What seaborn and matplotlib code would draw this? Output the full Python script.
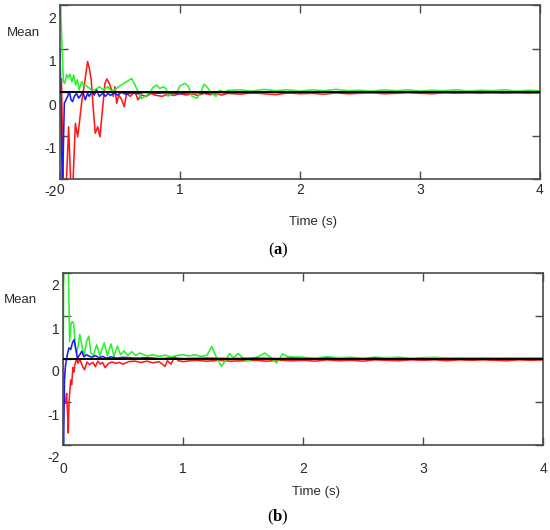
import numpy as np
import pandas as pd
import matplotlib
matplotlib.use("Agg")
import matplotlib.pyplot as plt
import seaborn as sns
from matplotlib.transforms import ScaledTranslation

sns.set_theme(style="white")
plt.rcParams['font.family'] = ['Liberation Sans', 'DejaVu Sans']
plt.rcParams['mathtext.fontset'] = 'custom'
plt.rcParams['mathtext.rm'] = 'Liberation Serif'
plt.rcParams['mathtext.bf'] = 'Liberation Serif:bold'

# ---------------- data ----------------
x_ticks = [0, 1, 2, 3, 4]
y_ticks = [-2, -1, 0, 1, 2]
ref_value = 0.0

# panel (a)
a_tail_t = [1.5, 1.6, 1.7, 1.8, 1.9, 2.0, 2.1, 2.2, 2.3, 2.4, 2.5, 2.6, 2.7,
            2.8, 2.9, 3.0, 3.1, 3.2, 3.3, 3.4, 3.5, 3.6, 3.7, 3.8, 3.9, 4.0]

a_red_t = [0.0, 0.012, 0.02, 0.03, 0.05, 0.072, 0.092, 0.105, 0.128, 0.147,
           0.161, 0.183, 0.2, 0.23, 0.244, 0.26, 0.278, 0.294, 0.314, 0.333,
           0.356, 0.375, 0.39, 0.41, 0.43, 0.444, 0.458, 0.472, 0.49, 0.514,
           0.536, 0.555, 0.583, 0.625, 0.65, 0.68, 0.72, 0.76, 0.79, 0.85,
           0.9, 0.95, 1.0, 1.05, 1.1, 1.15, 1.2, 1.25, 1.3, 1.35, 1.4]
a_red_v = [0.3, 0.3, -1.0, -2.3, -2.3, -0.8, -2.3, -2.3, -0.72, -1.03,
           -0.72, -0.18, 0.12, 0.70, 0.55, 0.28, -0.41, -0.95, -0.8, -1.03,
           -0.34, 0.2, 0.3, 0.2, 0.05, -0.1, 0.12, -0.26, -0.07, -0.18,
           -0.34, -0.03, -0.1, 0.0, -0.18, -0.07, -0.1, -0.03, -0.07, -0.1,
           -0.05, -0.08, -0.03, -0.07, -0.04, -0.08, -0.03, -0.06, -0.04, -0.07, -0.03]
a_red_tail = [-0.05, -0.02, -0.04, -0.06, -0.02, -0.04, -0.03, -0.05, -0.02, -0.04,
              -0.03, -0.02, -0.04, -0.03, -0.02, -0.03, -0.04, -0.02, -0.03, -0.02,
              -0.03, -0.02, -0.03, -0.02, -0.03, -0.02]

a_blue_t = [0.0, 0.012, 0.02, 0.036, 0.05, 0.064, 0.078, 0.092, 0.105, 0.12,
            0.138, 0.155, 0.175, 0.19, 0.21, 0.23, 0.244, 0.267, 0.285, 0.305,
            0.328, 0.356, 0.378, 0.4, 0.42, 0.45, 0.48, 0.51, 0.55, 0.6,
            0.65, 0.7, 0.8, 0.9, 1.0, 1.1, 1.2, 1.3, 1.4]
a_blue_v = [1.0, -1.0, -2.3, -0.26, -0.18, -0.1, 0.01, -0.18, -0.22, -0.1,
            -0.03, -0.14, -0.07, 0.01, -0.18, -0.03, -0.1, 0.01, -0.07, 0.05,
            -0.1, -0.03, -0.1, -0.03, -0.08, -0.02, -0.07, -0.01, -0.05, -0.02,
            -0.04, -0.01, -0.03, -0.02, -0.04, -0.01, -0.03, -0.01, -0.02]
a_blue_tail = [-0.01, -0.02, 0.0, -0.01, -0.02, 0.0, -0.01, 0.0, -0.01, -0.02,
               0.0, -0.01, 0.0, -0.01, 0.0, -0.01, 0.0, -0.01, 0.0, -0.01,
               0.0, -0.01, 0.0, -0.01, 0.0, -0.01]

a_green_t = [0.0, 0.028, 0.04, 0.056, 0.07, 0.083, 0.1, 0.114, 0.13, 0.145,
             0.16, 0.18, 0.195, 0.21, 0.23, 0.26, 0.29, 0.33, 0.36, 0.4,
             0.43, 0.47, 0.51, 0.556, 0.597, 0.625, 0.65, 0.68, 0.71, 0.745,
             0.777, 0.805, 0.83, 0.86, 0.885, 0.9, 0.93, 0.97, 1.0, 1.04,
             1.07, 1.1, 1.14, 1.17, 1.2, 1.23, 1.26, 1.3, 1.33, 1.37,
             1.4, 1.44]
a_green_v = [2.3, 0.24, 0.2, 0.4, 0.33, 0.41, 0.23, 0.39, 0.16, 0.28,
             0.05, 0.24, 0.15, 0.16, 0.12, 0.05, 0.05, 0.12, 0.05, 0.12,
             0.01, 0.08, 0.16, 0.24, 0.31, 0.16, 0.01, -0.15, -0.1, -0.03,
             0.11, 0.16, 0.08, 0.12, 0.08, -0.1, -0.03, -0.03, 0.14, 0.2,
             0.13, -0.1, -0.14, -0.03, 0.18, 0.1, -0.03, -0.1, 0.04, 0.0,
             0.04, 0.04]
a_green_tail = [0.05, 0.02, 0.06, 0.03, 0.05, 0.02, 0.05, 0.03, 0.06, 0.03,
                0.04, 0.02, 0.05, 0.03, 0.05, 0.02, 0.04, 0.03, 0.05, 0.02,
                0.04, 0.03, 0.05, 0.02, 0.04, 0.03]

# panel (b)
b_tail_t = [2.0, 2.1, 2.2, 2.3, 2.4, 2.5, 2.6, 2.7, 2.8, 2.9, 3.0,
            3.1, 3.2, 3.3, 3.4, 3.5, 3.6, 3.7, 3.8, 3.9, 4.0]

b_red_t = [0.0, 0.005, 0.012, 0.022, 0.03, 0.039, 0.044, 0.05, 0.058, 0.064,
           0.072, 0.083, 0.09, 0.1, 0.114, 0.125, 0.14, 0.164, 0.18, 0.2,
           0.22, 0.25, 0.27, 0.29, 0.31, 0.33, 0.35, 0.38, 0.41, 0.44,
           0.47, 0.5, 0.55, 0.6, 0.65, 0.7, 0.75, 0.8, 0.85, 0.87,
           0.9, 0.93, 0.96, 1.0, 1.1, 1.2, 1.3, 1.4, 1.5, 1.6,
           1.7, 1.8, 1.9]
b_red_v = [0.05, -0.3, -1.0, -1.03, -0.8, -1.34, -1.72, -1.0, -0.7, -0.49,
           -0.6, -0.2, -0.3, -0.12, 0.02, -0.1, 0.0, -0.18, -0.25, -0.07,
           -0.13, -0.08, -0.18, -0.05, -0.12, -0.08, -0.2, -0.1, -0.07, -0.1,
           -0.08, -0.12, -0.06, -0.05, -0.08, -0.05, -0.09, -0.06, -0.17, -0.04,
           -0.12, 0.06, -0.04, -0.06, -0.03, -0.05, -0.03, -0.05, -0.04, -0.03,
           -0.05, -0.03, -0.04]
b_red_tail = [-0.03, -0.05, -0.02, -0.04, -0.03, -0.05, -0.02, -0.03, -0.04, -0.02,
              -0.03, -0.02, -0.04, -0.02, -0.03, -0.02, -0.03, -0.04, -0.02, -0.03, -0.02]

b_blue_t = [0.0, 0.004, 0.012, 0.022, 0.036, 0.05, 0.064, 0.078, 0.092, 0.105,
            0.12, 0.14, 0.156, 0.175, 0.195, 0.215, 0.24, 0.27, 0.3, 0.33,
            0.36, 0.4, 0.45, 0.5, 0.6, 0.7, 0.8, 0.9, 1.0, 1.2,
            1.4, 1.6, 1.8, 1.9]
b_blue_v = [-2.3, -2.3, -0.5, -0.13, 0.1, 0.26, 0.22, 0.37, 0.45, 0.26,
            0.02, 0.1, 0.18, 0.05, 0.1, 0.07, 0.04, 0.08, 0.03, 0.06,
            0.02, 0.05, 0.02, 0.04, 0.02, 0.03, 0.01, 0.02, 0.01, 0.02,
            0.01, 0.02, 0.01, 0.02]
b_blue_tail = [0.01, 0.0, 0.02, 0.0, 0.01, 0.0, 0.02, 0.0, 0.01, 0.0, 0.01,
               0.0, 0.01, 0.0, 0.01, 0.0, 0.01, 0.0, 0.01, 0.0, 0.01]

b_green_t = [0.0, 0.006, 0.025, 0.042, 0.055, 0.068, 0.08, 0.09, 0.104, 0.114,
             0.126, 0.14, 0.155, 0.175, 0.195, 0.215, 0.232, 0.253, 0.281, 0.308,
             0.344, 0.369, 0.4, 0.425, 0.453, 0.48, 0.508, 0.54, 0.572, 0.605,
             0.64, 0.7, 0.75, 0.8, 0.85, 0.9, 0.95, 1.0, 1.05, 1.1,
             1.15, 1.2, 1.24, 1.28, 1.32, 1.35, 1.39, 1.42, 1.46, 1.5,
             1.54, 1.58, 1.63, 1.68, 1.73, 1.78, 1.83, 1.87, 1.92, 1.96]
b_green_v = [-1.2, 2.6, 2.6, 2.6, 0.4, 0.84, 0.87, 0.8, 0.26, 0.15,
             0.3, 0.57, 0.35, 0.06, 0.4, 0.53, 0.14, 0.08, 0.33, 0.08,
             0.38, 0.08, 0.35, 0.06, 0.3, 0.1, 0.19, 0.08, 0.17, 0.08,
             0.14, 0.07, 0.1, 0.06, 0.09, 0.05, 0.08, 0.1, 0.07, 0.1,
             0.06, 0.09, 0.29, 0.03, -0.17, -0.05, 0.13, 0.02, 0.13, 0.02,
             -0.05, 0.01, 0.06, 0.14, 0.04, -0.09, 0.12, 0.06, 0.04, 0.05]
b_green_tail = [0.04, 0.02, 0.05, 0.03, 0.04, 0.02, 0.04, 0.03, 0.04, 0.02, 0.03,
                0.04, 0.02, 0.03, 0.02, 0.03, 0.02, 0.03, 0.02, 0.03, 0.02]

series_order = ["red", "green", "blue"]
palette = {"red": "#ff1a1a", "green": "#2ef02e", "blue": "#1a1aff"}


def make_df(parts):
    frames = []
    for name, t, v in parts:
        frames.append(pd.DataFrame({"t": t, "v": v, "series": name}))
    return pd.concat(frames, ignore_index=True)


df_a = make_df([
    ("red", a_red_t + a_tail_t, a_red_v + a_red_tail),
    ("green", a_green_t + a_tail_t, a_green_v + a_green_tail),
    ("blue", a_blue_t + a_tail_t, a_blue_v + a_blue_tail),
])
df_b = make_df([
    ("red", b_red_t + b_tail_t, b_red_v + b_red_tail),
    ("green", b_green_t + b_tail_t, b_green_v + b_green_tail),
    ("blue", b_blue_t + b_tail_t, b_blue_v + b_blue_tail),
])

# ---------------- figure ----------------
fig = plt.figure(figsize=(5.5, 5.3), dpi=100)
fig.patch.set_facecolor("white")
ax_a = fig.add_axes([60 / 550, 1 - 179 / 530, 480 / 550, 174 / 530])
ax_b = fig.add_axes([63 / 550, 1 - 445 / 530, 480 / 550, 172 / 530])

frame_col = "#4a4a4a"
text_col = "#2a2a2a"

for ax, df, xpad, lab_xy, mean_xy in [
    (ax_a, df_a, 3.0, (0.527, -0.247), (-0.077, 0.839)),
    (ax_b, df_b, 12.0, (0.527, -0.273), (-0.0896, 0.843)),
]:
    sns.lineplot(data=df, x="t", y="v", hue="series", hue_order=series_order,
                 palette=palette, estimator=None, sort=False, legend=False,
                 linewidth=1.15, ax=ax)
    ax.axhline(ref_value, color="black", linewidth=1.4, zorder=5)
    ax.set_xlim(0, 4)
    ax.set_ylim(-2, 2)
    ax.set_facecolor("white")
    for sp in ax.spines.values():
        sp.set_color(frame_col)
        sp.set_linewidth(1.2)
        sp.set_visible(True)
    ax.set_xticks(x_ticks)
    ax.set_xticklabels([str(v) for v in x_ticks])
    ax.set_yticks(y_ticks)
    ax.set_yticklabels([str(v) for v in y_ticks])
    ax.tick_params(axis="both", which="major", direction="in", length=6,
                   width=1.0, color=frame_col, top=True, right=True,
                   bottom=True, left=True, labelsize=10, labelcolor=text_col)
    ax.tick_params(axis="x", pad=xpad)
    ax.tick_params(axis="y", pad=2.5)
    ax.set_xlabel("Time (s)", fontsize=9.5, color=text_col, va="center")
    ax.xaxis.set_label_coords(*lab_xy)
    ax.set_ylabel("Mean", fontsize=9.5, color=text_col, rotation=0,
                  ha="center", va="center")
    ax.yaxis.set_label_coords(*mean_xy)
    offset = ScaledTranslation(0, -12 / 100, fig.dpi_scale_trans)
    for lab in ax.get_yticklabels():
        lab.set_transform(lab.get_transform() + offset)

serif = ["Liberation Serif", "DejaVu Serif"]
fig.text(278 / 550, 1 - 250 / 530, r"($\mathbf{a}$)", ha="center", va="center",
         fontsize=12, family=serif, color="black")
fig.text(278 / 550, 1 - 517 / 530, r"($\mathbf{b}$)", ha="center", va="center",
         fontsize=12, family=serif, color="black")

fig.savefig("out.png", dpi=100, facecolor="white")
